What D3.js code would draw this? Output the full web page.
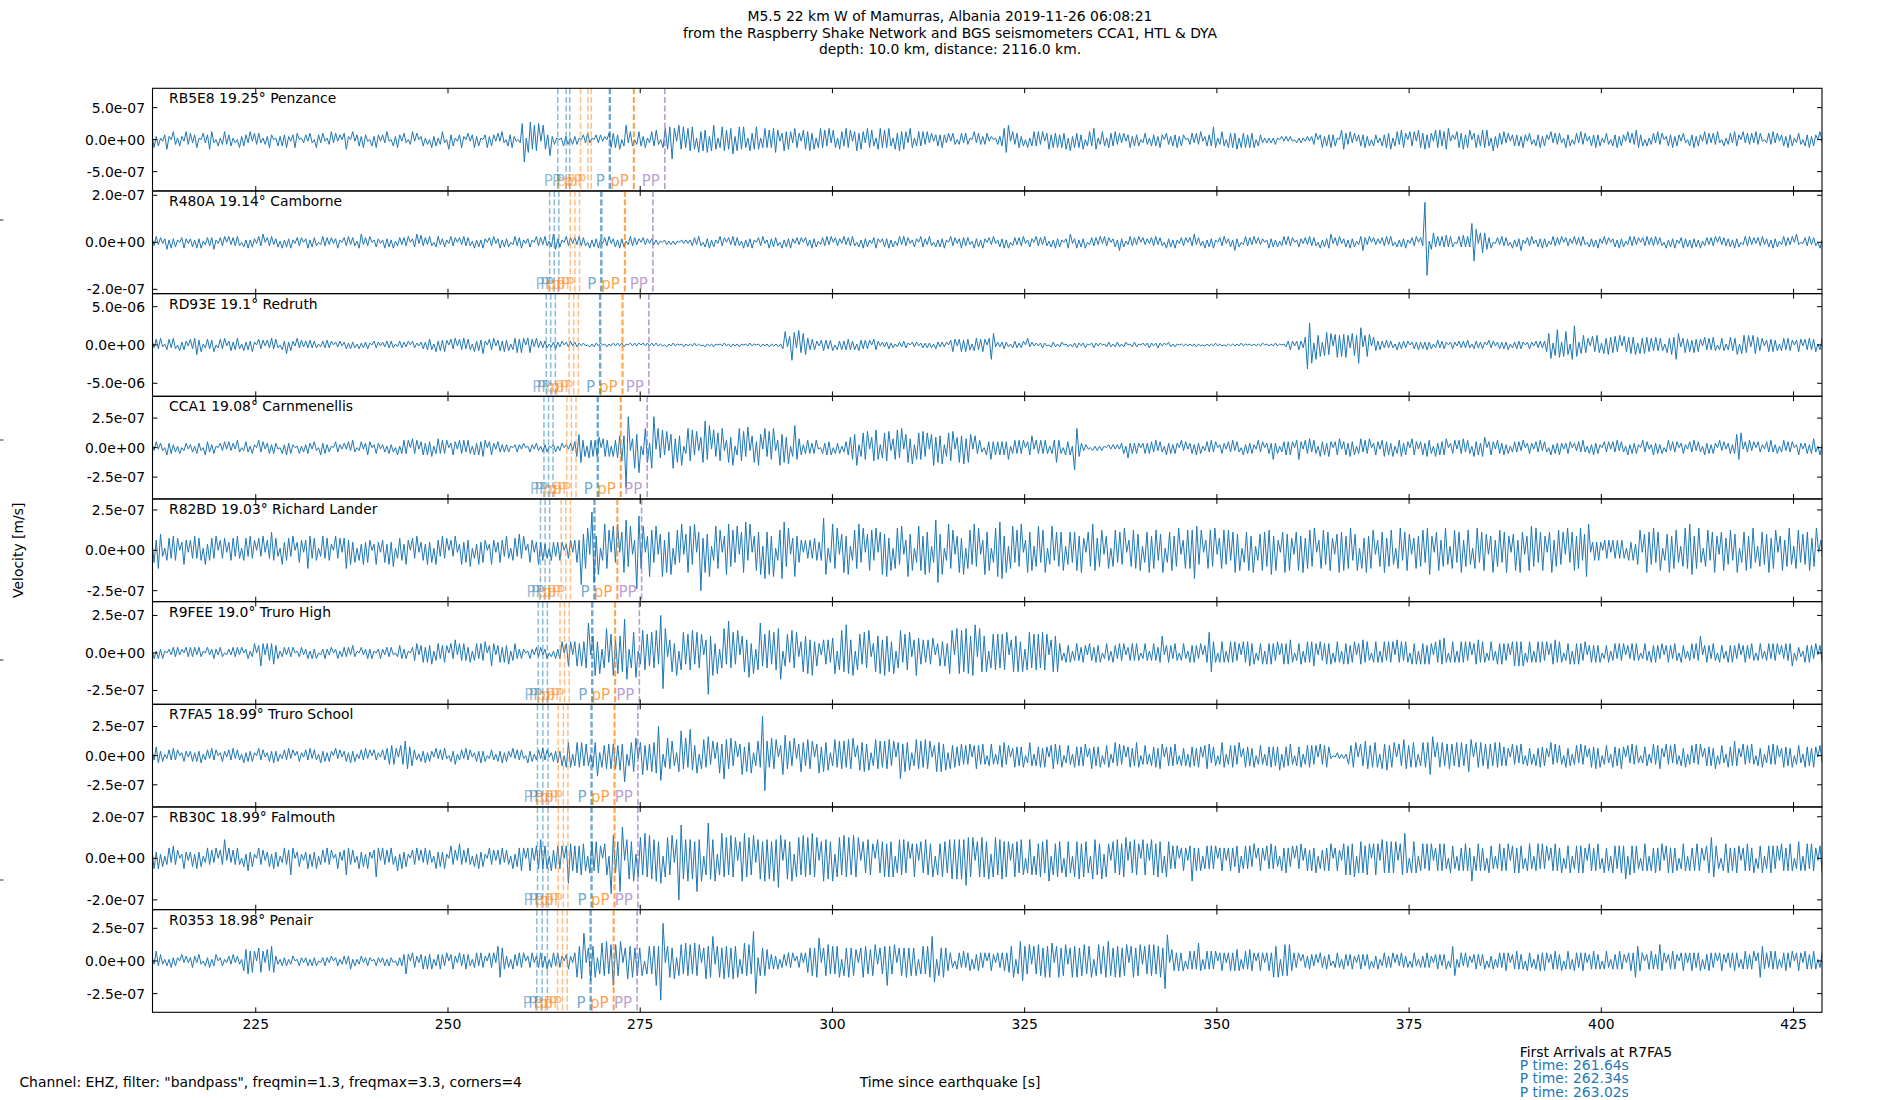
<!DOCTYPE html>
<html lang="en">
<head>
<meta charset="UTF-8">
<title>M5.5 22 km W of Mamurras - seismograms</title>
<script src="https://d3js.org/d3.v7.min.js"></script>
<style>
  body { margin: 0; background: #fff; }
  text { font-family: "DejaVu Sans", sans-serif; font-size: 13.9px; fill: #000; }
</style>
</head>
<body>
<div id="chart"></div>
<script>
  // stations, top to bottom
  const stations = ["RB5E8", "R480A", "RD93E", "CCA1", "R82BD", "R9FEE", "R7FA5", "RB30C", "R0353"];
  const distances = ["19.25", "19.14", "19.1", "19.08", "19.03", "19.0", "18.99", "18.99", "18.98"];
  const places = ["Penzance", "Camborne", "Redruth", "Carnmenellis", "Richard Lander", "Truro High", "Truro School", "Falmouth", "Penair"];

  // y axis of each panel: labelled tick value and half range (m/s)
  const yTickValues = [5e-7, 2e-7, 5e-6, 2.5e-7, 2.5e-7, 2.5e-7, 2.5e-7, 2e-7, 2.5e-7];
  const yHalfRange = [8.02e-7, 2.184e-7, 6.7e-6, 4.35e-7, 3.18e-7, 3.42e-7, 4.4e-7, 2.47e-7, 3.93e-7];

  // x axis
  const timeDomain = [211.57, 428.7];
  const timeTicks = [225, 250, 275, 300, 325, 350, 375, 400, 425];

  // phase arrivals per station [s]: 3 x P, 3 x pP (faint), then P, pP, PP
  const phaseNames = ["P", "P", "P", "pP", "pP", "pP", "P", "pP", "PP"];
  const phaseTimes = [
    [264.28, 265.37, 265.84, 267.24, 268.19, 268.63, 271.05, 274.17, 278.2],
    [263.22, 263.82, 264.42, 265.91, 266.51, 267.11, 269.94, 273.0, 276.65],
    [262.78, 263.36, 263.96, 265.75, 266.35, 266.95, 269.79, 272.7, 276.13],
    [262.48, 263.08, 263.66, 265.46, 266.05, 266.65, 269.48, 272.47, 275.91],
    [262.03, 262.63, 263.22, 264.72, 265.32, 265.92, 269.05, 272.03, 275.18],
    [261.73, 262.33, 262.93, 264.57, 265.17, 265.77, 268.76, 271.74, 274.89],
    [261.64, 262.34, 263.02, 264.34, 265.0, 265.6, 268.67, 271.66, 274.7],
    [261.64, 262.34, 263.02, 264.34, 265.0, 265.6, 268.67, 271.66, 274.7],
    [261.55, 262.25, 262.93, 264.25, 264.9, 265.5, 268.55, 271.55, 274.6]
  ];

  const firstArrivals = [261.64, 262.34, 263.02];

  // traces: successive peak / trough sizes (base 36),
  // one block of characters per 5 s starting at traceStart
  const traceStart = 211.5;
  const blockSeconds = 5;
  const ampUnit = [2.5e-8, 5e-9, 1.25e-7, 1.25e-8, 1.25e-8, 1.25e-8, 1.25e-8, 1e-8, 1.25e-8];
  const traceRB5E8 = "352411362053142153 423510423652041353 341205243251434213 253014243521354012 314205324113524130 462051342531042531 325104253142035140 241305241352063411 352041352410352431 415204352102ae18b69 7a1963a2310142313 231032421032312045 453604925403542512 546305768c7196857 786185768279615876 679278685174686157 565786147565275416 657461575647265165 475615746527564167 565741647565275145 453524134353241430 342431052432341201 324789153452405145 453514635453546172 545360454761354154 453424135243402431 434253043243524301 342435124348513540 545461545354504321 212131021212102121 121234035243534106 643524134352404321 435461453654054516 546354165645671305 546356045346564172 543524134342531430 435243052434215340 342534124353412430 435243152436534041 342534024352431420 435243153424352041 342543052434253410 243524134253412430 435243052434215340";
  const traceR480A = "435241362534204531 342535124346214350 524353042524315370 435234152435214340 352443025342413520 435243157243502431 253425134243503471 634253045234215340 425343152425304351 352434025345213420 534253147634205341 425343052435214351 342534125342304231 322210221212102121 234253043524215340 425343152435204351 253443052435314240 432534124352504331 524353042534214530 343524135253412430 543253042435205341 354342153425304251 243525034243512430 534253142534203571 352435024342515340 342734125342504231 435243053425214340 437243152435204351 342734025342514230 253424135253402431 425343052435714351 342534125742504231 435253042435214350 43ys16845354645401 546454ggb189864501 425343052437214351 243534125342504331 524352043425315240 342534125352404352 435243052435214534 253425134243505243 342534025352414352 342534125342507201 435243052435214534";
  const traceRD93E = "536472156374063541 647a57136457036471 463574163547306451 537463054936417352 435343124353403241 342433142334204331 324343124332404321 343565174657506471 657465174659406571 564756157868707862 734343123432403241 322121021221201211 212122102121202121 212111021121101211 112111021112101121 121112101121101211 12111214e29gd3f8c a7565415654560545 456545165454506541 323423123243203231 232323143232305761 675765167567607fc2 323432134323407231 212321023212301212 232123102321201232 123212301232102123 212321203212101111 111211011111211101 111111211011111120 111121101245414543 8pnj2fac3bdac1bdac bda3cbaji2acb18645 435343153443403435 343534135344303431 434353144334305341 343435133444303431 434347ce2bgd3cea1f kc39a87197a8297a8 897a197898a297987 768676187a8fc2786 758676185758605761 5867a19a8a2a98671 576756167576505761 657567157665705671";
  const traceCCA1 = "324132053423140231 231432054324103241 423153024314205341 342431042534201413 243142053423104321 314253024135402431 231423051454506451 453546146454503541 545354153546504531 432323102321301321 321323102312302132 469a561756567066561 657898rl26e9h15da3 el1d7c5b29e6a8c14d 9c5b27ai8f1c6a9d25 a7c15d9b6e28a4c91d 6b8d25c9a7b16f8652 454345104354504341 345789c26a8b179c82 7a9b268c7d19a6b28a 8b6a19c7a8b26a9b17 a8b6a918453054845 454548145454504581 545454145a5405451 fd632210212121021 212134173434303434 435243153424305241 342534124353402431 435243052434215340 343834134545405841 546354164536404561 453645146354603541 564536145635406541 453654163545603451 546354164536704541 543524134342503431 435243052435313440 324353142534204341 435243152434205341 253424035243403421 435243153424305241 342498a14352404321 435324135243402531 342463152434205341";
  const traceR82BD = "465983156475604751 547465173564705461 456374156374506371 549563174563704651 597465137465307461 695746153746503741 563748146537506471 453746175374605371 374658143746503751 465374156384703651 474534154345403451 565h89b2jg7c15d9a1 c6d19bf8c25jh9c17d a6c28d5b9c17a6d28b c7d19k6b8d25c9a17c d8a6c29be5d17a9c2e 9c7d15aee8b26d7651 54546545gc16d9b28 b7c25a9d6b18aa5b19 c8d6a19b7c25d8a16c a7c9b26fg8c15d9a27 b6c19a7d8b25c9a16b dee7b29c6a8d15b9a2 8c6ab17c5989a2796 9a7b6198da68a2791 8a697b158a98a269b 79a58b169a78b259a 9aec7a159a8b269a7 a59b8a169a7b258a9 8ac7a519b8a629a7b 69a8b159a79a628b9 a79b58a196b79a258 9b68a719b59a82697 8a6bc719a58b729a6 9b58a719b69a827b5 8a69b718a5b927ac8 b69a719b58a792b69 a79b58dd14545405451 545454154537a18b9 7b69a158b79a628b9 dc79b618a59b729a6 7a58b169a79b62897 8b69a17a58b729a68 79a68b158a79b269a";
  const traceR9FEE = "231323102132312032 323132103123213201 213231302312504751 545643123132301231 231323012321302312 323142103123231023 213231024323103451 453546145345405371 545435145354604751 453546145323201321 323123021323605761 675768g19c6b28d5a c7b9aie28bd16c9a7 b8c6kjd27a5c19b6a 9c6b8a17m9c5b28d6 h8b6c19a7d5b29g7a 8c6b9de17a5c8b26a 9b7c675176758b19c afb7c19a6b8c25a9b 7c9a6b18c5a9b27c8 675768157675bc1d bcadb9cf2da9a18a9 a8a9b17a9a6a29b8a 9a8b9a17a9a5405451 454354154354503541 543545134545403541 454359145435404531 545435145ba6505651 565645165675604561 656546156567504561 565675164565605651 656456156756405651 564656175646506561 656465165768505651 565646156756504641 656545167676705651 565646156756504561 656546145454503451 453545143545403541 545435145435405431 453549145435405431 545435145435404531 453545143545704321 545435145435405431";
  const traceR7FA5 = "436534124353402431 342435134253402431 435243152434205341 243534124352403421 435243153424305241 342534124352404321 4356765176a967431 435243152435204361 342534124353402431 435243152434205341 342534124353708981 7989787189e287989 897a8i179bc29d7a8 b9ckh18c9a72bh9c8 ia7c19b8d6a29c8gb 9c7a18d6b9c27a8ro a8c9b17de9a7c28b9 7b9a18c6b9a27b8a9 a8b9c17a9b8a27b9a 8a9b7a19g8b9a27b9 a8b9a17b9b8a29786 786768179768607861 678967158676805971 768586179867805761 867678159676806781 597867168579806761 768598167678607571 867586179856706981 678769158675806761 768676a18678607681 678767186786201221 216789187a978981 98a789187b978981 7989dd1989789879 8978bb1989789879 897675186758607561 758675196857608571 675867158695806751 867596175867505671 586795186758607581 675868157675906751 867a75186758607581 576867158675806751 867586175867506751";
  const traceRB30C = "453524135263402531 342534125342504391 524353042634205341 342534125348503421 352435134253402531 485342153425304951 534253162534204351 425342153435206341 734253142534205341 435243152456505651 659565164565606c76 67687617868760781h b78gf19a8b29a8c9b a9b8c19a8b29kga9b 9a8g9b18ha9b28c9a 8b9a18bc9a8b29a8b 9a8b9eb19a8b29a8b 9a8c9a18b9a8b29a8 b9a8b9a187987097 897989179897807971 8798791879879a9a 9a9da9a189a98a29a 89a898179879807981 879879b18798709871 98a79871a987a2971 879879a18798709871 987987198565605651 6b5656156565605651 565467156564705651 657564165754606571 564657154656705641 786879178768707871 9787878178c707871 675767156767507651 656765b16765607651 576567167576506751 675756156765705671 567675176567507561 765676a18676506761 657567167575605761 656765167a965067 756576156765705671 567656176567605861 675765167575605761";
  const traceR0353 = "326342131423204131 243142032413402311 324132167867608761 769732132312301321 231323012321302312 323513123123201321 231321032348405431 453545134543504531 534543145354305451 9a8534154354503451 345435145354304531 5a9bh18c9a28b9c8a fa9c18b9a8989089 89f9on19a8b29a8b9 a8b9a18b9af29a8b9 a8b9a18b9a8ik2989 754535144354503451 57898ae189a8989a1 98a89718a9879a28 89f98a1898a89891 8989afd198a865405 546456154654505641 5456579a18cc98a29 8a98a9ab19a89a28a 9a89a89a19a89ac9 8a9a89a19a89a298a 9a89a8hg176565605 6565b6156565605651 565676156576505651 565a9a19a9a654504 435434154354304541 543453145434504351 354345143543404531 434543145434504991 453543145434504351 454565145654506541 546565145654605651 654565145654505641 5456541565a965045 6545a6514565405651 565456154654505641 545654156545605a95 546565145654605651 654565145654505641";
  const traceCodes = [traceRB5E8, traceR480A, traceRD93E, traceCCA1, traceR82BD, traceR9FEE, traceR7FA5, traceRB30C, traceR0353];

  const W = 1900, H = 1100;
  const plotLeft = 152.5, plotRight = 1822, plotTop = 88.3, plotBottom = 1012.3;
  const panelH = (plotBottom - plotTop) / stations.length;
  const traceColor = "#1f77b4";

  const svg = d3.select("#chart").append("svg")
      .attr("width", W)
      .attr("height", H);

  const x = d3.scaleLinear().domain(timeDomain).range([plotLeft, plotRight]);

  // 1 decimal mantissa, 2 digit exponent, like %.1e
  function sci(v) {
    const s = v.toExponential(1);
    const [m, e] = s.split("e");
    const sign = e[0] === "-" ? "-" : "+";
    const digits = e.replace(/[+-]/, "");
    return m + "e" + sign + (digits.length < 2 ? "0" + digits : digits);
  }

  function decode(code, unit) {
    const pts = [];
    let k = 0;
    code.trim().split(/\s+/).forEach((blk, b) => {
      for (let j = 0; j < blk.length; j++) {
        const v = parseInt(blk[j], 36) * unit;
        pts.push([traceStart + b * blockSeconds + j * blockSeconds / blk.length, k % 2 ? -v : v]);
        k++;
      }
    });
    return pts;
  }

  const phaseStyle = [
    { color: "rgba(31,119,180,0.5)", width: 1.5 },
    { color: "rgba(31,119,180,0.5)", width: 1.5 },
    { color: "rgba(31,119,180,0.5)", width: 1.5 },
    { color: "rgba(255,127,14,0.5)", width: 1.5 },
    { color: "rgba(255,127,14,0.5)", width: 1.5 },
    { color: "rgba(255,127,14,0.5)", width: 1.5 },
    { color: "rgba(31,119,180,0.65)", width: 2.4 },
    { color: "rgba(255,127,14,0.75)", width: 2 },
    { color: "rgba(148,103,189,0.65)", width: 1.6 }
  ];

  const defs = svg.append("defs");

  stations.forEach((st, i) => {
    const y0 = plotTop + i * panelH, y1 = y0 + panelH;
    const y = d3.scaleLinear().domain([-yHalfRange[i], yHalfRange[i]]).range([y1, y0]);
    const g = svg.append("g").attr("class", "panel");

    defs.append("clipPath").attr("id", "clip" + i)
      .append("rect").attr("x", plotLeft).attr("y", y0).attr("width", plotRight - plotLeft).attr("height", panelH);

    // trace
    const data = decode(traceCodes[i], ampUnit[i]);
    g.append("path")
      .datum(data)
      .attr("clip-path", "url(#clip" + i + ")")
      .attr("fill", "none")
      .attr("stroke", traceColor)
      .attr("stroke-width", 1)
      .attr("stroke-linejoin", "round")
      .attr("d", d3.line().x(d => x(d[0])).y(d => y(d[1])));

    // phase arrivals
    phaseTimes[i].forEach((t, k) => {
      const px = x(t);
      g.append("line")
        .attr("x1", px).attr("x2", px)
        .attr("y1", y0).attr("y2", y1)
        .attr("stroke", phaseStyle[k].color)
        .attr("stroke-width", phaseStyle[k].width)
        .attr("stroke-dasharray", "6,2.6");
      g.append("text")
        .attr("x", px - 5)
        .attr("y", y1 - 4.5)
        .attr("text-anchor", "end")
        .style("font-size", "15px")
        .style("fill", phaseStyle[k].color)
        .text(phaseNames[k]);
    });

    // frame
    g.append("rect")
      .attr("x", plotLeft).attr("y", y0)
      .attr("width", plotRight - plotLeft).attr("height", panelH)
      .attr("fill", "none").attr("stroke", "#000").attr("stroke-width", 1.1);

    // x ticks, inward, top and bottom
    timeTicks.forEach(t => {
      const px = x(t);
      g.append("line").attr("x1", px).attr("x2", px).attr("y1", y0).attr("y2", y0 + 4.9)
        .attr("stroke", "#000").attr("stroke-width", 1);
      g.append("line").attr("x1", px).attr("x2", px).attr("y1", y1).attr("y2", y1 - 4.9)
        .attr("stroke", "#000").attr("stroke-width", 1);
    });

    // y ticks, inward, both sides
    const yt = [yTickValues[i], 0, -yTickValues[i]];
    yt.forEach(v => {
      const py = y(v);
      g.append("line").attr("x1", plotLeft).attr("x2", plotLeft + 4.9).attr("y1", py).attr("y2", py)
        .attr("stroke", "#000").attr("stroke-width", 1);
      g.append("line").attr("x1", plotRight).attr("x2", plotRight - 4.9).attr("y1", py).attr("y2", py)
        .attr("stroke", "#000").attr("stroke-width", 1);
      g.append("text")
        .attr("x", plotLeft - 7.5)
        .attr("y", py)
        .attr("dy", "0.36em")
        .attr("text-anchor", "end")
        .text(sci(v));
    });

    // station label
    g.append("text")
      .attr("x", plotLeft + 16.5)
      .attr("y", y0 + 15)
      .text(st + " " + distances[i] + "\u00b0 " + places[i]);
  });

  // x tick labels on the bottom panel only
  svg.append("g").selectAll("text")
    .data(timeTicks)
    .enter().append("text")
      .attr("x", d => x(d))
      .attr("y", plotBottom + 17)
      .attr("text-anchor", "middle")
      .text(d => d);

  // title
  const titleLines = [
    "M5.5 22 km W of Mamurras, Albania 2019-11-26 06:08:21",
    "from the Raspberry Shake Network and BGS seismometers CCA1, HTL & DYA",
    "depth: 10.0 km, distance: 2116.0 km."
  ];
  svg.append("g").selectAll("text")
    .data(titleLines)
    .enter().append("text")
      .attr("x", W / 2)
      .attr("y", (d, k) => 21 + k * 16.7)
      .attr("text-anchor", "middle")
      .text(d => d);

  // axis labels and notes
  svg.append("text")
    .attr("transform", "translate(23," + ((plotTop + plotBottom) / 2) + ") rotate(-90)")
    .attr("text-anchor", "middle")
    .text("Velocity [m/s]");

  svg.append("text")
    .attr("x", W / 2)
    .attr("y", 1086.5)
    .attr("text-anchor", "middle")
    .text("Time since earthquake [s]");

  svg.append("text")
    .attr("x", 19.4)
    .attr("y", 1086.5)
    .text('Channel: EHZ, filter: "bandpass", freqmin=1.3, freqmax=3.3, corners=4');

  svg.append("text")
    .attr("x", 1519.7)
    .attr("y", 1056.5)
    .text("First Arrivals at " + stations[6]);

  svg.append("g").selectAll("text")
    .data(firstArrivals)
    .enter().append("text")
      .attr("x", 1519.7)
      .attr("y", (d, k) => 1069.8 + k * 13.35)
      .style("fill", traceColor)
      .text(d => "P time: " + d.toFixed(2) + "s");

  // ticks of the hidden full-figure axis at the left edge
  [0.2, 0.4, 0.6, 0.8].forEach(f => {
    svg.append("line")
      .attr("x1", 0).attr("x2", 3.5)
      .attr("y1", H * (1 - f)).attr("y2", H * (1 - f))
      .attr("stroke", "#000").attr("stroke-width", 0.8);
  });
</script>
</body>
</html>
